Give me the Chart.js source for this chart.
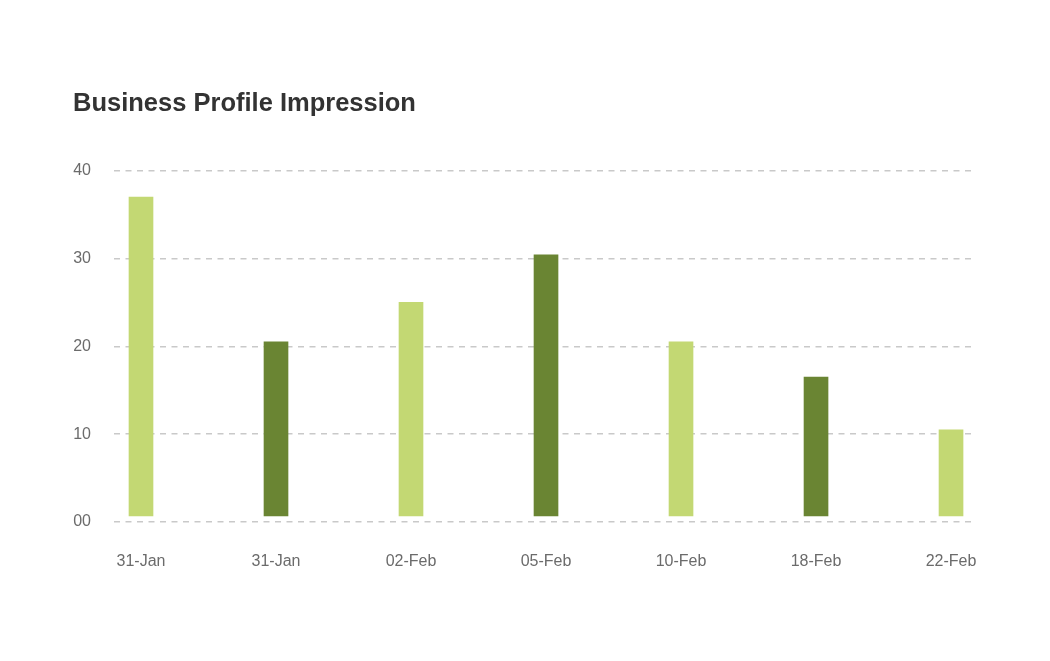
<!DOCTYPE html>
<html>
<head>
<meta charset="utf-8">
<title>Business Profile Impression</title>
<script src="https://cdn.jsdelivr.net/npm/chart.js@4.4.1/dist/chart.umd.min.js"></script>
<style>
    html, body { margin: 0; padding: 0; background: #ffffff; }
    #chart_wrap { width: 1050px; height: 661px; }
</style>
</head>
<body>
<div id="chart_wrap"><canvas id="impression_chart" width="1050" height="661"></canvas></div>
<script>
// data
const categories = ['31-Jan', '31-Jan', '02-Feb', '05-Feb', '10-Feb', '18-Feb', '22-Feb'];
const impressions = [37, 20.5, 25, 30.4, 20.5, 16.5, 10.5];
const y_ticks = [0, 10, 20, 30, 40];
const y_tick_labels = ['00', '10', '20', '30', '40'];

const light_green = '#c3d873';
const dark_green = '#6a8533';
const font_family = "'Liberation Sans', Arial, Helvetica, sans-serif";

// bars alternate light / dark
const bar_colors = categories.map((c, i) => (i % 2 == 0 ? light_green : dark_green));

const config = {
    type: 'bar',
    data: {
        datasets: [{
            label: 'Impressions',
            data: impressions.map((v, i) => ({x: i, y: v})),
            backgroundColor: bar_colors,
            barThickness: 24,
            base: 0.7,
            borderWidth: 0
        }]
    },
    options: {
        responsive: false,
        animation: false,
        devicePixelRatio: 1,
        layout: {
            padding: {left: 73, right: 74, top: 0, bottom: 89}
        },
        plugins: {
            legend: {display: false},
            tooltip: {enabled: false},
            title: {
                display: true,
                text: 'Business Profile Impression',
                align: 'start',
                color: '#333333',
                font: {family: font_family, size: 25.5, weight: 'bold'},
                padding: {top: 89, bottom: 51}
            }
        },
        scales: {
            x: {
                type: 'linear',
                offset: false,
                min: -0.2,
                max: 6.185,
                afterBuildTicks: function(scale) {
                    scale.ticks = categories.map((c, i) => ({value: i}));
                },
                afterFit: function(scale) {
                    scale.height = 50;
                },
                grid: {display: false, drawTicks: false},
                border: {display: false},
                ticks: {
                    autoSkip: false,
                    maxRotation: 0,
                    padding: 30,
                    color: '#6b6b6b',
                    font: {family: font_family, size: 16},
                    callback: function(value) {
                        return categories[value];
                    }
                }
            },
            y: {
                min: 0,
                max: 40,
                afterBuildTicks: function(scale) {
                    scale.ticks = y_ticks.map(v => ({value: v}));
                },
                afterFit: function(scale) {
                    scale.width = 41;
                },
                grid: {
                    color: '#c9c9c9',
                    lineWidth: 1.5,
                    drawTicks: false
                },
                border: {display: false, dash: [6, 5.5]},
                ticks: {
                    padding: 23,
                    color: '#6b6b6b',
                    font: {family: font_family, size: 16},
                    callback: function(value) {
                        return y_tick_labels[y_ticks.indexOf(value)];
                    }
                }
            }
        }
    }
};

window.onload = function() {
    const ctx = document.getElementById('impression_chart');
    new Chart(ctx, config);
};
</script>
</body>
</html>
